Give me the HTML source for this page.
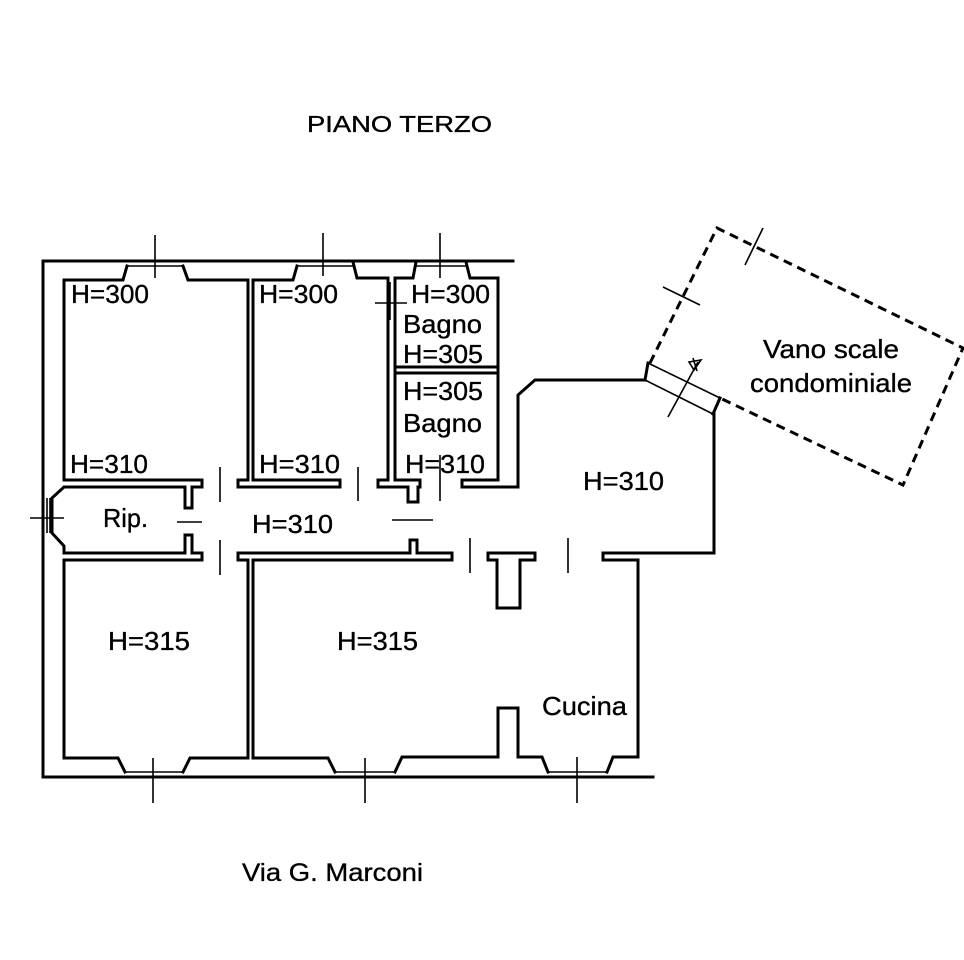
<!DOCTYPE html>
<html><head><meta charset="utf-8"><style>
html,body{margin:0;padding:0;background:#fff;}
svg{display:block;}
text{font-family:"Liberation Sans",Arial,sans-serif;fill:#000;stroke:#000;stroke-width:0.35;}
</style></head><body>
<svg width="964" height="960" viewBox="0 0 964 960" xmlns="http://www.w3.org/2000/svg">
<rect width="964" height="960" fill="#fff"/>
<g fill="none" stroke="#000" stroke-width="3" stroke-linejoin="miter" stroke-linecap="square">
<!-- outer lines -->
<path d="M43,261 V777"/>
<path d="M43,261 H513"/>
<path d="M43,777 H653"/>
<!-- room1 + rip + lower-left -->
<path d="M127,266 L123,280 H64 V480 H202 V487 H192 V508 H185 V487 H64 L52,498 V533 L64,546 V553 H185 V535 H192 V553 H202 V560 H64 V758 H118 L125,772"/>
<!-- room1/room2 partition top -->
<path d="M183,266 L188,280 H248 V480 H238 V487 H340 V480 H253 V280 H293 L297,266"/>
<!-- lower partition -->
<path d="M183,772 L190,758 H248 V560 H238 V553 H410 V540 H417 V553 H452 V560 H253 V758 H328 L335,772"/>
<!-- pier top + T partition -->
<path d="M353,262 L357,278 H388 V480 H378 V487 H408 V502 H418 V487 H420 V480 H395 V278 H413 L416,262"/>
<!-- bagno -->
<path d="M466,262 L470,278 H498 V480 H462 V487 H518 V395 L535,380 H645"/>
<path d="M395,367 H498 M395,373 H498"/>
<!-- T column -->
<path d="M488,553 H535 V560 H520 V608 H497 V560 H488 Z"/>
<!-- kitchen / living -->
<path d="M603,553 H714 V414"/>
<path d="M603,553 V560 H638 V757 H613 L607,772"/>
<path d="M395,772 L402,757 H498 V708 H518 V757 H542 L548,772"/>
<!-- door frame to stair -->
<path d="M648,363 L645,380 M720,398 L713,414"/>
</g>
<g fill="none" stroke="#000" stroke-width="1.6">
<path d="M648,363 L720,398 M645,380 L713,414"/>
<!-- window glass lines -->
<path d="M127,266 H183 M298,266 H353 M416,266 H466"/>
<path d="M125,772 H183 M335,772 H395 M548,772 H607"/>
<!-- Rip window -->
<path d="M47,498 V533 M50,498 V533"/>
<!-- axes -->
<path d="M155,235 V278 M323,233 V276 M440,233 V278"/>
<path d="M153,758 V803 M365,758 V803 M577,757 V803"/>
<path d="M30,518 H64"/>
<!-- door marks -->
<path d="M220,467 V502 M220,540 V575 M358,467 V501 M440,455 V501 M470,538 V573 M568,538 V573"/>
<path d="M177,522 H202 M392,520 H433"/>
<path d="M375,303 H407 M390,282 V320"/>
<!-- stair ticks -->
<path d="M663,287 L700,305 M745,265 L763,228 M668,417 L698,362"/>
<path d="M689,362 L701,360 L694,370 Z M693,358 L697,371"/>
</g>
<path d="M650,363 L717,228 L963,348 L903,485 L720,398" fill="none" stroke="#000" stroke-width="3" stroke-dasharray="9,6"/>
<g font-size="26">
<text x="307" y="132" font-size="23" textLength="185" lengthAdjust="spacingAndGlyphs">PIANO TERZO</text>
<text x="242" y="881" font-size="25" textLength="181" lengthAdjust="spacingAndGlyphs">Via G. Marconi</text>
<text x="71" y="303" textLength="78" lengthAdjust="spacingAndGlyphs">H=300</text>
<text x="70" y="473" textLength="78" lengthAdjust="spacingAndGlyphs">H=310</text>
<text x="259" y="303" textLength="79" lengthAdjust="spacingAndGlyphs">H=300</text>
<text x="259" y="473" textLength="81" lengthAdjust="spacingAndGlyphs">H=310</text>
<text x="411" y="303" textLength="79" lengthAdjust="spacingAndGlyphs">H=300</text>
<text x="403" y="333" textLength="79" lengthAdjust="spacingAndGlyphs">Bagno</text>
<text x="403" y="363" textLength="80" lengthAdjust="spacingAndGlyphs">H=305</text>
<text x="403" y="400" textLength="80" lengthAdjust="spacingAndGlyphs">H=305</text>
<text x="403" y="432" textLength="79" lengthAdjust="spacingAndGlyphs">Bagno</text>
<text x="405" y="473" textLength="80" lengthAdjust="spacingAndGlyphs">H=310</text>
<text x="103" y="527" textLength="45" lengthAdjust="spacingAndGlyphs">Rip.</text>
<text x="252" y="533" textLength="81" lengthAdjust="spacingAndGlyphs">H=310</text>
<text x="583" y="490" textLength="81" lengthAdjust="spacingAndGlyphs">H=310</text>
<text x="108" y="650" textLength="82" lengthAdjust="spacingAndGlyphs">H=315</text>
<text x="337" y="650" textLength="81" lengthAdjust="spacingAndGlyphs">H=315</text>
<text x="542" y="715" textLength="85" lengthAdjust="spacingAndGlyphs">Cucina</text>
<text x="763" y="358" textLength="136" lengthAdjust="spacingAndGlyphs">Vano scale</text>
<text x="750" y="392" textLength="162" lengthAdjust="spacingAndGlyphs">condominiale</text>
</g>
</svg>
</body></html>
